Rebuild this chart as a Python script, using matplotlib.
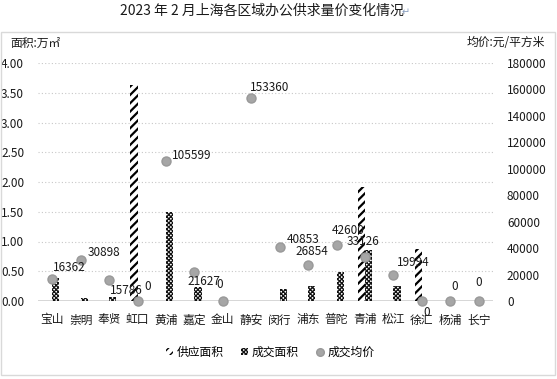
import matplotlib
matplotlib.use("Agg")
import matplotlib.pyplot as plt
from matplotlib.patches import Patch, Rectangle
from matplotlib.lines import Line2D
import numpy as np

plt.rcParams['font.family'] = ['Noto Sans CJK SC', 'DejaVu Sans']

districts = ["宝山", "崇明", "奉贤", "虹口", "黄浦", "嘉定", "金山", "静安",
             "闵行", "浦东", "普陀", "青浦", "松江", "徐汇", "杨浦", "长宁"]
supply_area = [0, 0, 0, 3.63, 0, 0, 0, 0, 0, 0, 0, 1.91, 0, 0.88, 0, 0]
deal_area = [0.38, 0.05, 0.07, 0, 1.49, 0.24, 0, 0, 0.21, 0.26, 0.48, 0.85, 0.26, 0, 0, 0]
deal_price = [16362, 30898, 15786, 0, 105599, 21627, 0, 153360,
              40853, 26854, 42600, 33126, 19994, 0, 0, 0]
# label offsets in pixels (dx, dy)
label_offsets = [(1, 12), (7, 8), (1, -10), (7, 15), (6, 6), (-7, -9), (-6, 16), (-1, 11),
                 (7, 7), (-13, 14), (-5, 14), (-18, 16), (3, 12), (1, -11), (1, 14), (-3, 19)]
left_ticks = [0, 0.5, 1.0, 1.5, 2.0, 2.5, 3.0, 3.5, 4.0]
right_ticks = list(range(0, 180001, 20000))

W, H = 557, 379
fig = plt.figure(figsize=(W / 100, H / 100), dpi=100)
ax = fig.add_axes([38 / W, 78 / H, (493 - 38) / W, (301 - 63) / H])

x = np.arange(len(districts))
bw = 0.25
SUP_HATCH, SUP_LW = '////', 1.6
DEAL_HATCH, DEAL_LW = 'xxxxxxxx', 0.9
with plt.rc_context({'hatch.linewidth': SUP_LW}):
    b1 = ax.bar(x - bw / 2, supply_area, bw, facecolor='white', edgecolor='black',
                linewidth=0, hatch=SUP_HATCH, zorder=3)
with plt.rc_context({'hatch.linewidth': DEAL_LW}):
    b2 = ax.bar(x + bw / 2, deal_area, bw, facecolor='white', edgecolor='#111111',
                linewidth=0, hatch=DEAL_HATCH, zorder=3)

ax.set_xlim(-0.5, len(districts) - 0.5)
ax.set_ylim(0, 4)
ax.set_yticks(left_ticks)
ax.set_yticklabels([f"{v:.2f}" for v in left_ticks])
ax.set_xticks(x)
ax.set_xticklabels(districts, fontsize=8.5)
for s in ax.spines.values():
    s.set_visible(False)
ax.tick_params(axis='both', length=0, labelsize=8.5, colors='#1a1a1a')
ax.tick_params(axis='x', pad=9)
ax.tick_params(axis='y', pad=10)
ax.grid(axis='y', linestyle=(0, (1, 2)), color='#c8c8c8', linewidth=0.8, zorder=0)
ax.axhline(0, color='#d0d0d0', linewidth=1.2, zorder=2)
ax.set_axisbelow(True)

ax2 = ax.twinx()
ax2.set_ylim(0, 180000)
ax2.set_yticks(right_ticks)
ax2.set_yticklabels([str(v) for v in right_ticks])
for s in ax2.spines.values():
    s.set_visible(False)
ax2.tick_params(axis='y', length=0, labelsize=8.5, colors='#1a1a1a', pad=10)
ax2.plot(x, deal_price, linestyle='none', marker='o', markersize=6.5,
         markerfacecolor='#a6a6a6', markeredgecolor='#999999', clip_on=False, zorder=5)
for xi, v, (dx, dy) in zip(x, deal_price, label_offsets):
    ax2.annotate(str(v), (xi, v), xytext=(dx, dy), textcoords='offset pixels',
                 ha='left', va='center', fontsize=8.5, color='#1a1a1a', zorder=6)

# frame
fig.patches.append(Rectangle((1 / W, 4 / H), 554 / W, (375 - 32) / H, transform=fig.transFigure,
                             fill=False, edgecolor='#d9d9d9', linewidth=1))

fig.text(262 / W, 1 - 11 / H, "2023 年 2 月上海各区域办公供求量价变化情况", ha='center',
         va='center', fontsize=10, color='#1a1a1a')
fig.text(402 / W, 1 - 12 / H, "↵", ha='left', va='center', fontsize=7, color='#8aa0c0',
         family=['DejaVu Sans'])
fig.text(10 / W, 1 - 43 / H, "面积:万㎡", ha='left', va='center', fontsize=8.5, color='#1a1a1a')
fig.text(545 / W, 1 - 43 / H, "均价:元/平方米", ha='right', va='center', fontsize=8.5, color='#1a1a1a')

with plt.rc_context({'hatch.linewidth': SUP_LW}):
    h1 = Patch(facecolor='white', edgecolor='black', linewidth=0, hatch=SUP_HATCH)
with plt.rc_context({'hatch.linewidth': DEAL_LW}):
    h2 = Patch(facecolor='white', edgecolor='#111111', linewidth=0, hatch=DEAL_HATCH)
h3 = Line2D([], [], linestyle='none', marker='o', markersize=5.5,
            markerfacecolor='#a6a6a6', markeredgecolor='#999999')
fig.legend([h1, h2, h3], ["供应面积", "成交面积", "成交均价"], loc='center',
           bbox_to_anchor=(270 / W, 1 - 352 / H), ncol=3, frameon=False, fontsize=8.5,
           handlelength=0.6, handleheight=0.6, handletextpad=0.3, columnspacing=1.5)

fig.savefig("out.png", dpi=100)
